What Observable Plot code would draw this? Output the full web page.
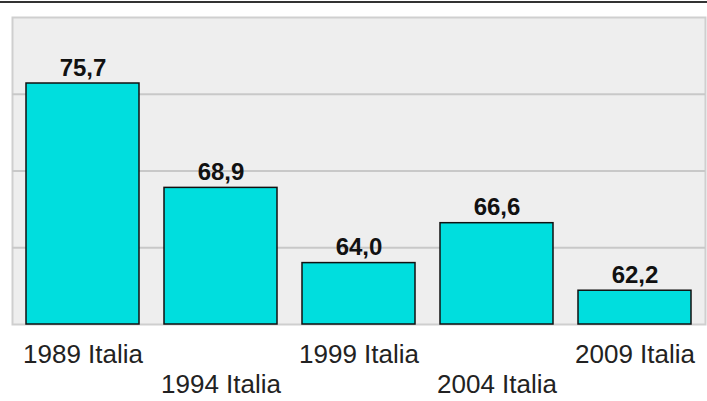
<!DOCTYPE html>
<html>
<head>
<meta charset="utf-8">
<script src="https://cdn.jsdelivr.net/npm/d3@7"></script>
<script src="https://cdn.jsdelivr.net/npm/@observablehq/plot@0.6"></script>
<style>
  html, body { margin: 0; padding: 0; background: #fff; }
  #wrap { position: relative; width: 707px; height: 401px; overflow: hidden; }
  #topline { position: absolute; left: 0; top: 1px; width: 707px; height: 2px; background: #333; }
</style>
</head>
<body>
<div id="wrap"><div id="topline"></div><div id="chart"></div></div>
<script>
const categories = ["1989 Italia", "1994 Italia", "1999 Italia", "2004 Italia", "2009 Italia"];
const values = [75.7, 68.9, 64.0, 66.6, 62.2];
const gridTicks = [65, 70, 75];

const data = categories.map((c, i) => ({category: c, value: values[i]}));
const fmt = v => v.toFixed(1).replace(".", ",");
const upper = categories.filter((_, i) => i % 2 === 0);
const lower = categories.filter((_, i) => i % 2 === 1);

const chart = Plot.plot({
  width: 707,
  height: 401,
  marginLeft: 12,
  marginRight: 2,
  marginTop: 17,
  marginBottom: 77,
  style: {background: "transparent", fontFamily: "Liberation Sans, Arial, sans-serif"},
  x: {domain: categories, paddingInner: 0.184, paddingOuter: 0.1, axis: null},
  y: {domain: [60, 80], axis: null},
  marks: [
    Plot.frame({fill: "#eeeeee", stroke: "#cfcfcf", strokeWidth: 2}),
    Plot.ruleY(gridTicks, {stroke: "#c8c8c8", strokeWidth: 2}),
    Plot.barY(data, {x: "category", y1: 60, y2: "value", fill: "#00dede", stroke: "#111", strokeWidth: 1.5}),
    Plot.text(data, {x: "category", y: "value", text: d => fmt(d.value), lineAnchor: "bottom", dy: -8,
      fontSize: 24, fontWeight: "bold", fill: "#111"}),
    Plot.axisX(upper, {tickSize: 0, tickPadding: 20, fontSize: 26, fill: "#222", label: null}),
    Plot.axisX(lower, {tickSize: 0, tickPadding: 50, fontSize: 26, fill: "#222", label: null})
  ]
});
document.getElementById("chart").appendChild(chart);
</script>
</body>
</html>
